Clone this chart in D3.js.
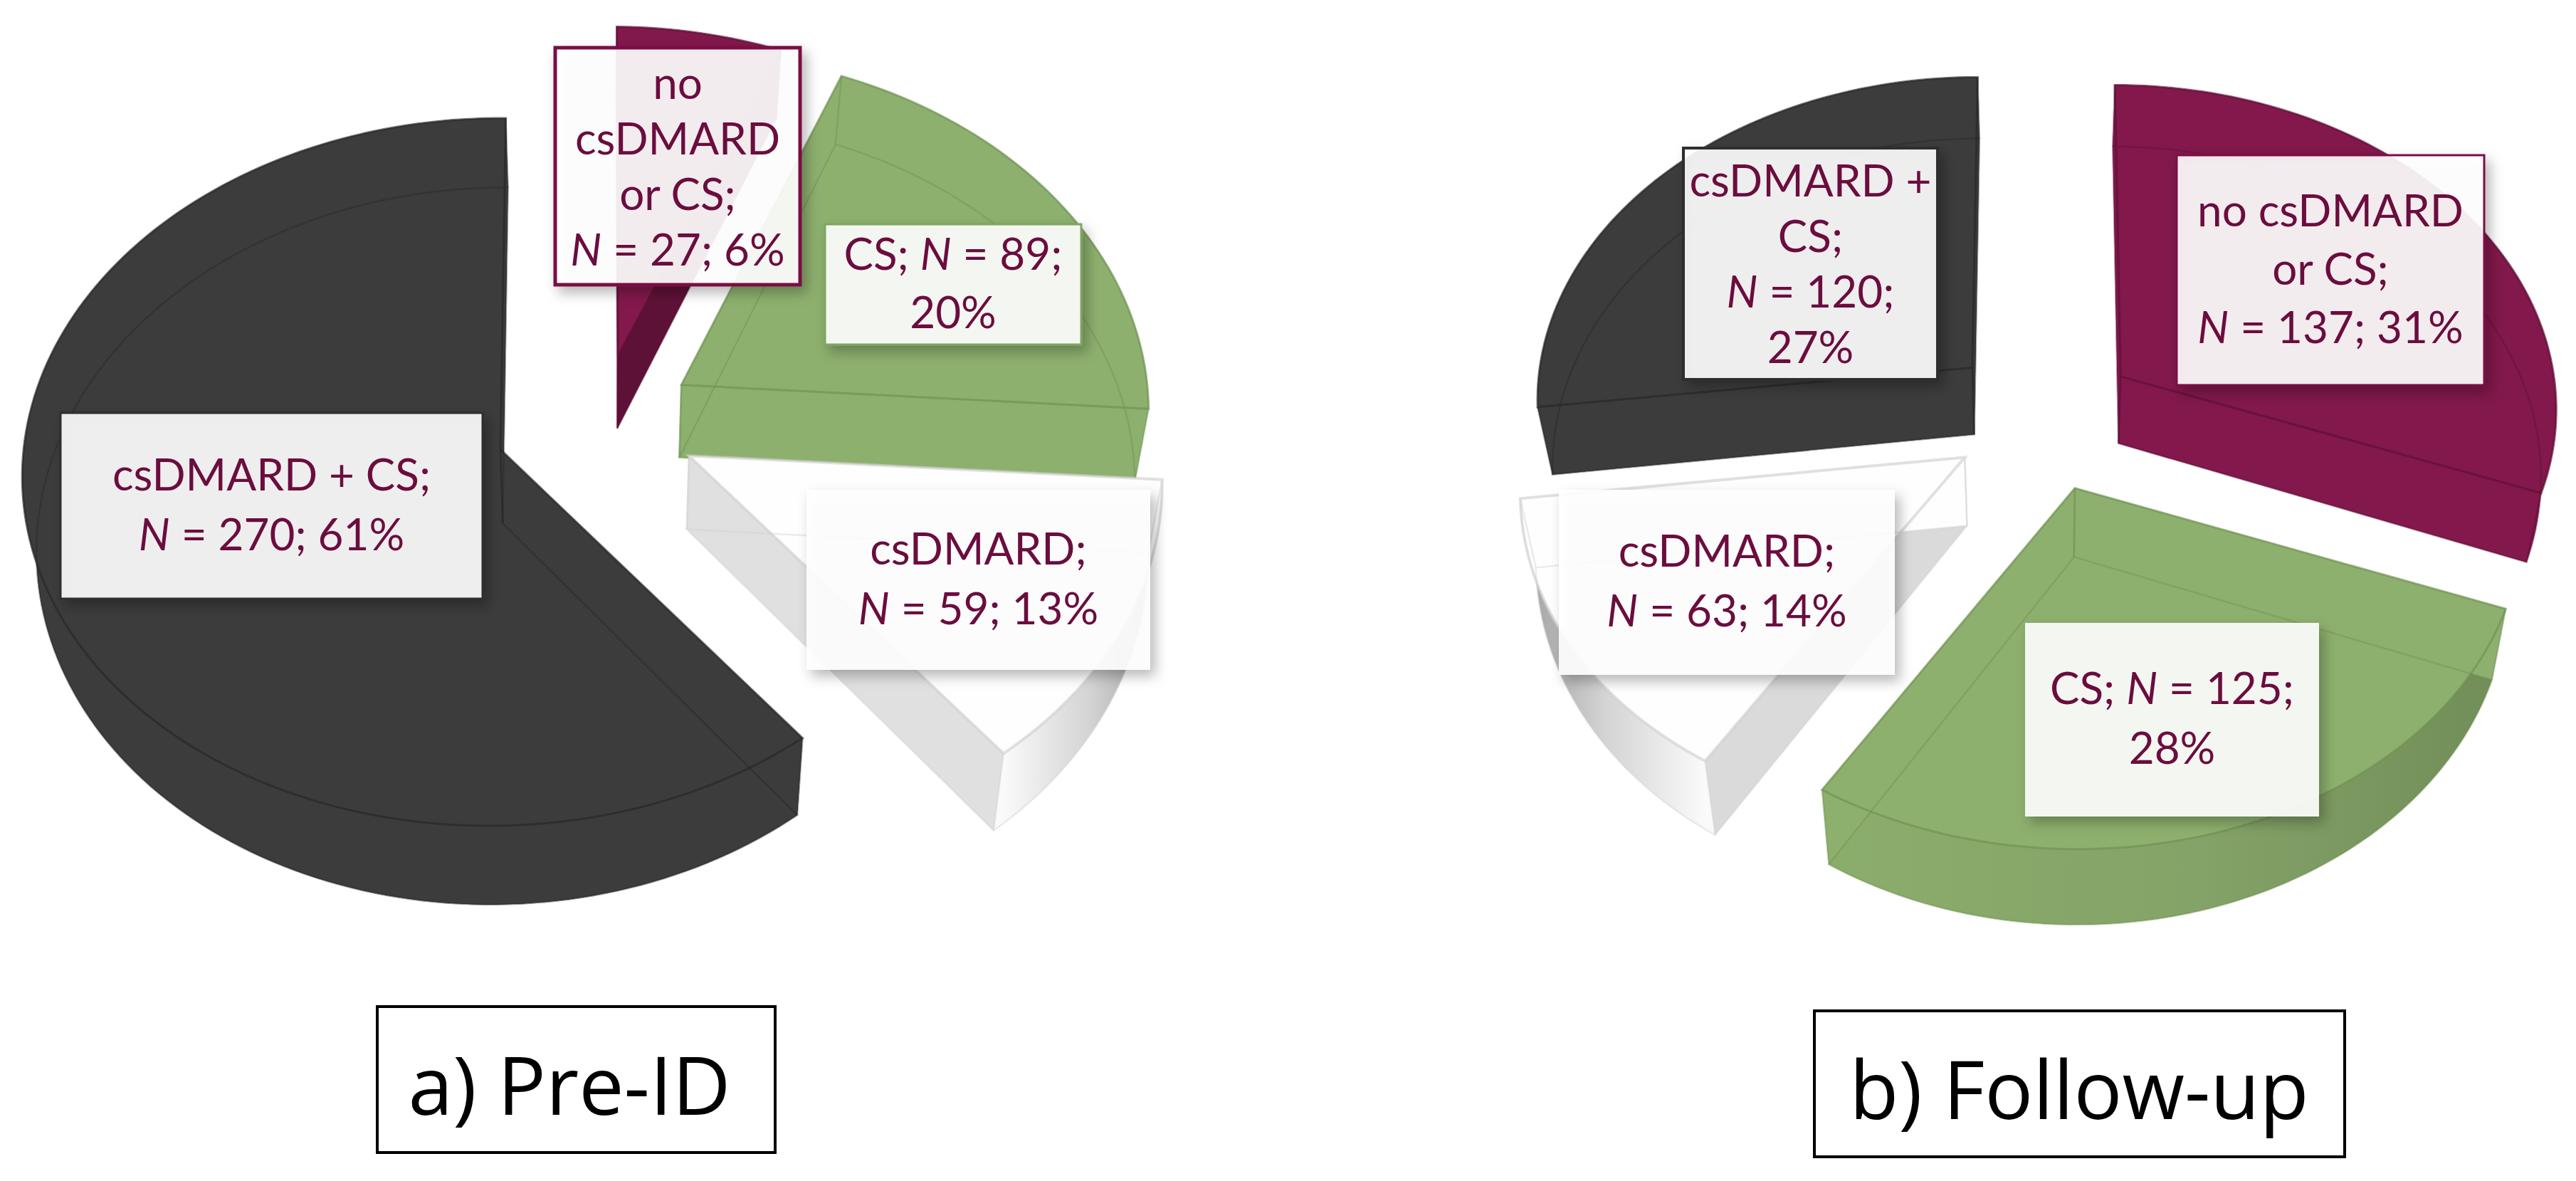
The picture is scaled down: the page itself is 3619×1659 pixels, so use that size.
<!DOCTYPE html>
<html><head><meta charset="utf-8">
<script src="https://cdn.jsdelivr.net/npm/d3@7"></script>
<style>html,body{margin:0;background:#fff}svg{display:block}</style></head>
<body><svg id="c" width="3619" height="1659"></svg>
<script>
// data
const categories = ["no csDMARD or CS","CS","csDMARD","csDMARD + CS"];
const preIdCounts = [27,89,59,270];
const followUpCounts = [137,125,63,120];
const preIdLabels = [
  ["no","csDMARD","or CS;","N = 27; 6%"],
  ["CS; N = 89;","20%"],
  ["csDMARD;","N = 59; 13%"],
  ["csDMARD + CS;","N = 270; 61%"]];
const followUpLabels = [
  ["no csDMARD","or CS;","N = 137; 31%"],
  ["CS; N = 125;","28%"],
  ["csDMARD;","N = 63; 14%"],
  ["csDMARD +","CS;","N = 120;","27%"]];
const panelTitles = ["a) Pre-ID","b) Follow-up"];

// styles
const fills  = ["#82184b","#8db06e","#fefefe","#3c3c3c"];
const edges  = ["#5c1036","#6f9052","#cfcfcf","#262626"];
const rectBorder = ["#7a0f45","#7fa660",null,"#2e2e2e"];
const textColor = "#6b0d3e";

const panels = [
 {counts:preIdCounts,labels:preIdLabels,title:panelTitles[0],
  cx:843,cy:590,rx:668,ry:505,p:.065,q:.01,conv:.025,explode:.2,depth:103,
  nudge:[[0,8],[2,4],[6,3],[-13,8]], rimX:[1,1,1,.985], rimY:[1,1,1,.97],
  faceShade:[.72,1,.88,1], wall:[null,null,{dark:.62},null], order:[3,0,1,2],
  rects:[[780,67,344,333,5],[1159,315,360,169,3],[1133,688,483,253,0],[85,580,593,261,3]],
  lineH:[78,82,84,84], textDy:[22,20,20,20],
  box:[530,1414,559,205], titleY:1566, titleX:800},
 {counts:followUpCounts,labels:followUpLabels,title:panelTitles[1],
  cx:2865,cy:590,rx:615,ry:455,p:.09,q:0,conv:.03,explode:.2,depth:95,
  nudge:[[14,-10],[10,8],[0,3],[-3,-14]], rimX:[1,1,1,1], rimY:[1,.98,1,1],
  faceShade:[1,1,.86,1], wall:[null,{dark:.8},{dark:.62},null], order:[3,0,1,2],
  rects:[[3058,218,432,323,3],[2845,875,413,272,0],[2190,688,472,260,0],[2365,208,357,325,4]],
  lineH:[82,84,84,78], textDy:[20,20,20,22],
  box:[2549,1420,745,205], titleY:1572, titleX:2921}
];

const svg = d3.select("#c");
const defs = svg.append("defs");
const sh = defs.append("filter").attr("id","shadow").attr("x","-15%").attr("y","-15%").attr("width","135%").attr("height","135%");
sh.append("feDropShadow").attr("dx",7).attr("dy",9).attr("stdDeviation",9).attr("flood-color","#000").attr("flood-opacity",.3);

const pieGen = d3.pie().sort(null).value(d=>d);
const lineGen = d3.line();

panels.forEach((pn,pi)=>{
  const arcs = pieGen(pn.counts);
  const g = svg.append("g");
  const project = (d,ang,r,z)=>{
    const mid=(d.startAngle+d.endAngle)/2;
    const u=pn.explode*Math.sin(mid)+r*pn.rimX[d.index]*Math.sin(ang);
    const v=pn.explode*Math.cos(mid)+r*pn.rimY[d.index]*Math.cos(ang);
    const w=1+pn.p*v+pn.q*u;
    const [nx,ny]=pn.nudge[d.index];
    return [pn.cx+nx+pn.rx*(u/w)*(1-pn.conv*z), pn.cy+ny-pn.ry*v/w+z*pn.depth/w];
  };
  const arcPts=(d,z,rev)=>{
    const n=Math.max(8,Math.ceil((d.endAngle-d.startAngle)*40));
    const pts=d3.range(n+1).map(i=>project(d,d.startAngle+(d.endAngle-d.startAngle)*i/n,1,z));
    return rev?pts.reverse():pts;
  };
  const sector=(d,z)=>lineGen([project(d,0,0,z),...arcPts(d,z)])+"Z";
  const radial=(d,a)=>lineGen([project(d,a,0,0),project(d,a,0,1),project(d,a,1,1),project(d,a,1,0)])+"Z";

  pn.order.forEach(i=>{
    const d=arcs[i], col=d3.color(fills[i]), s=g.append("g");
    s.append("path").attr("d",sector(d,1)).attr("fill",col);
    let wallFill=col;
    const wc=pn.wall[i];
    if(wc){
      const top=arcPts(d,0), a=top[0], b=top[top.length-1];
      const base=project(d,Math.PI,1,0);
      const far=Math.abs(a[0]-base[0])>Math.abs(b[0]-base[0])?a:b;
      const near=far===a?b:a;
      const id=`wall${pi}${i}`;
      const lg=defs.append("linearGradient").attr("id",id).attr("gradientUnits","userSpaceOnUse")
        .attr("x1",near[0]).attr("x2",far[0]).attr("y1",0).attr("y2",0);
      lg.append("stop").attr("offset",0).attr("stop-color",col.darker(.05));
      lg.append("stop").attr("offset",.55).attr("stop-color",d3.rgb(col.r*(1+wc.dark)/2+5,col.g*(1+wc.dark)/2+5,col.b*(1+wc.dark)/2+5));
      lg.append("stop").attr("offset",1).attr("stop-color",d3.rgb(col.r*wc.dark,col.g*wc.dark,col.b*wc.dark));
      wallFill=`url(#${id})`;
    }
    s.append("path").attr("d",lineGen([...arcPts(d,0),...arcPts(d,1,true)])+"Z").attr("fill",wallFill);
    const shadeCol=f=>d3.rgb(col.r*f,col.g*f,col.b*f);
    const f=pn.faceShade[i];
    s.append("path").attr("d",radial(d,d.startAngle)).attr("fill",Math.sin(d.startAngle)<0?shadeCol(f):col);
    s.append("path").attr("d",radial(d,d.endAngle)).attr("fill",Math.sin(d.endAngle)>0?shadeCol(f):col);
    s.append("path").attr("d",sector(d,0)).attr("fill",col);
    const faint=s.append("g").attr("fill","none").attr("stroke",edges[i]).attr("stroke-width",2.5).attr("stroke-opacity",.4);
    faint.append("path").attr("d",sector(d,1));
    [d.startAngle,d.endAngle].forEach(a=>faint.append("path").attr("d",lineGen([project(d,a,0,0),project(d,a,0,1)])));
    [d.startAngle,d.endAngle].forEach(a=>faint.append("path").attr("d",lineGen([project(d,a,1,0),project(d,a,1,1)])));
    s.append("path").attr("d",sector(d,0)).attr("fill","none").attr("stroke",edges[i]).attr("stroke-width",i===2?4:3).attr("stroke-opacity",.65);
  });

  pn.rects.forEach((r,i)=>{
    const [x,y,w,h,bw]=r;
    const lg=g.append("g");
    lg.append("rect").attr("x",x).attr("y",y).attr("width",w).attr("height",h)
      .attr("fill","#fff").attr("fill-opacity",.9)
      .attr("stroke",bw?rectBorder[i]:"none").attr("stroke-width",bw)
      .attr("filter","url(#shadow)");
    const lines=pn.labels[i], lh=pn.lineH[i];
    const t=lg.append("text").attr("text-anchor","middle").attr("fill",textColor)
      .attr("font-family","Lato, sans-serif").attr("font-size",62);
    lines.forEach((ln,k)=>{
      const yy=y+h/2+(k-(lines.length-1)/2)*lh+pn.textDy[i];
      const tl=t.append("tspan").attr("x",x+w/2).attr("y",yy);
      ln.split(/(\bN\b)/).filter(Boolean).forEach(part=>{
        tl.append("tspan").attr("font-style",part==="N"?"italic":"normal").text(part);
      });
    });
  });

  const [bx,by,bw,bh]=pn.box;
  g.append("rect").attr("x",bx).attr("y",by).attr("width",bw).attr("height",bh)
    .attr("fill","#fff").attr("stroke","#000").attr("stroke-width",4);
  g.append("text").attr("x",pn.titleX).attr("y",pn.titleY).attr("text-anchor","middle")
    .attr("font-family","'Open Sans', sans-serif").attr("font-size",113).attr("fill","#000").text(pn.title);
});
</script></body></html>
